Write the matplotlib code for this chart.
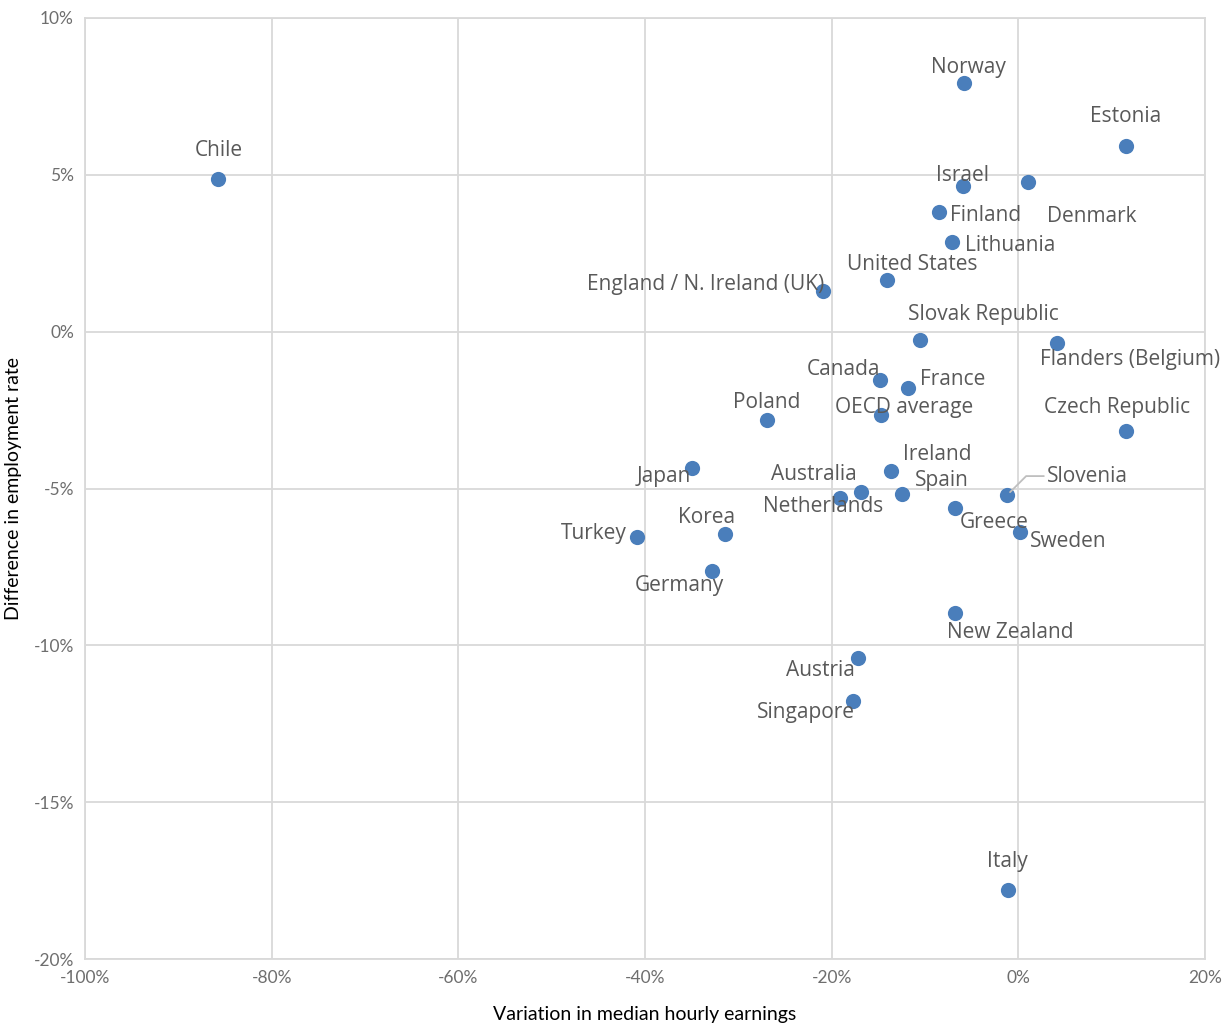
import matplotlib
matplotlib.use('Agg')
import matplotlib.pyplot as plt
from matplotlib.ticker import FuncFormatter, MultipleLocator

# values in percent
countries = ['Chile', 'Norway', 'Estonia', 'Israel', 'Denmark', 'Finland', 'Lithuania',
             'United States', 'England / N. Ireland (UK)', 'Slovak Republic',
             'Flanders (Belgium)', 'Canada', 'France', 'OECD average', 'Poland',
             'Czech Republic', 'Japan', 'Ireland', 'Australia', 'Spain', 'Netherlands',
             'Slovenia', 'Greece', 'Sweden', 'Korea', 'Turkey', 'Germany',
             'New Zealand', 'Austria', 'Singapore', 'Italy']
earnings_var = [-85.7, -5.8, 11.5, -5.9, 1.0, -8.5, -7.1,
                -14.1, -20.9, -10.5,
                4.1, -14.8, -11.8, -14.7, -26.9,
                11.5, -35.0, -13.6, -16.9, -12.5, -19.1,
                -1.2, -6.8, 0.2, -31.4, -40.9, -32.8,
                -6.8, -17.2, -17.7, -1.1]
employment_diff = [4.87, 7.93, 5.92, 4.64, 4.77, 3.82, 2.86,
                   1.65, 1.30, -0.26,
                   -0.36, -1.54, -1.79, -2.66, -2.81,
                   -3.17, -4.34, -4.44, -5.11, -5.17, -5.30,
                   -5.21, -5.62, -6.38, -6.45, -6.54, -7.63,
                   -8.97, -10.40, -11.77, -17.80]

# label offsets in pixels (x right, y up)
label_offsets = {
    'Chile': (0, 31), 'Norway': (4, 18), 'Estonia': (0, 32), 'Israel': (-1, 14),
    'Denmark': (64, -31), 'Finland': (47, -1), 'Lithuania': (58, -1),
    'United States': (26, 18), 'England / N. Ireland (UK)': (-118, 9),
    'Slovak Republic': (63, 28), 'Flanders (Belgium)': (73, -14),
    'Canada': (-37, 13), 'France': (44, 11), 'OECD average': (23, 11),
    'Poland': (-1, 20), 'Czech Republic': (-9, 27), 'Japan': (-28, -6),
    'Ireland': (46, 19), 'Australia': (-47, 20), 'Spain': (40, 16),
    'Netherlands': (-17, -6), 'Slovenia': (80, 22), 'Greece': (39, -12),
    'Sweden': (48, -7), 'Korea': (-19, 19), 'Turkey': (-43, 6),
    'Germany': (-33, -12), 'New Zealand': (55, -16), 'Austria': (-37, -10),
    'Singapore': (-47, -9), 'Italy': (-1, 31),
}
y_nudge = -3  # open sans sits a little high with va='center'

grid_col = '#d9d9d9'
text_col = '#595959'

fig = plt.figure(figsize=(12.31, 10.25), dpi=100)
ax = fig.add_axes([85 / 1231, 66 / 1025, 1120 / 1231, 941 / 1025])

ax.scatter(earnings_var, employment_diff, s=120, color='#4a7ebb', zorder=3, linewidths=0)

for name, x, y in zip(countries, earnings_var, employment_diff):
    dx, dy = label_offsets[name]
    kw = dict(xytext=(dx, dy + y_nudge), textcoords='offset pixels',
              ha='center', va='center', fontsize=15, color=text_col,
              family='Open Sans', zorder=4)
    if name == 'Slovenia':
        kw['arrowprops'] = dict(arrowstyle='-', color='#bfbfbf', lw=1.3,
                                shrinkA=0, shrinkB=3,
                                connectionstyle='angle,angleA=0,angleB=45,rad=0',
                                relpos=(0, 0.5))
    ax.annotate(name, (x, y), **kw)

ax.set_xlim(-100, 20)
ax.set_ylim(-20, 10)
ax.xaxis.set_major_locator(MultipleLocator(20))
ax.yaxis.set_major_locator(MultipleLocator(5))
ax.xaxis.set_major_formatter(FuncFormatter(lambda v, p: f'{v:.0f}%'))
ax.yaxis.set_major_formatter(FuncFormatter(lambda v, p: f'{v:.0f}%'))
ax.grid(True, color=grid_col, lw=1.3, zorder=0)
ax.set_axisbelow(True)
for sp in ax.spines.values():
    sp.set_color(grid_col)
    sp.set_linewidth(1.3)
ax.tick_params(length=0, labelsize=12.5, colors='#6e6e6e', pad=8)
for lab in ax.get_xticklabels() + ax.get_yticklabels():
    lab.set_family('Lato')

ax.set_xlabel('Variation in median hourly earnings', fontsize=14, family='Lato',
              color='black', labelpad=14)
ax.set_ylabel('Difference in employment rate', fontsize=14, family='Lato',
              color='black', labelpad=8)

fig.savefig('out.png', dpi=100)
